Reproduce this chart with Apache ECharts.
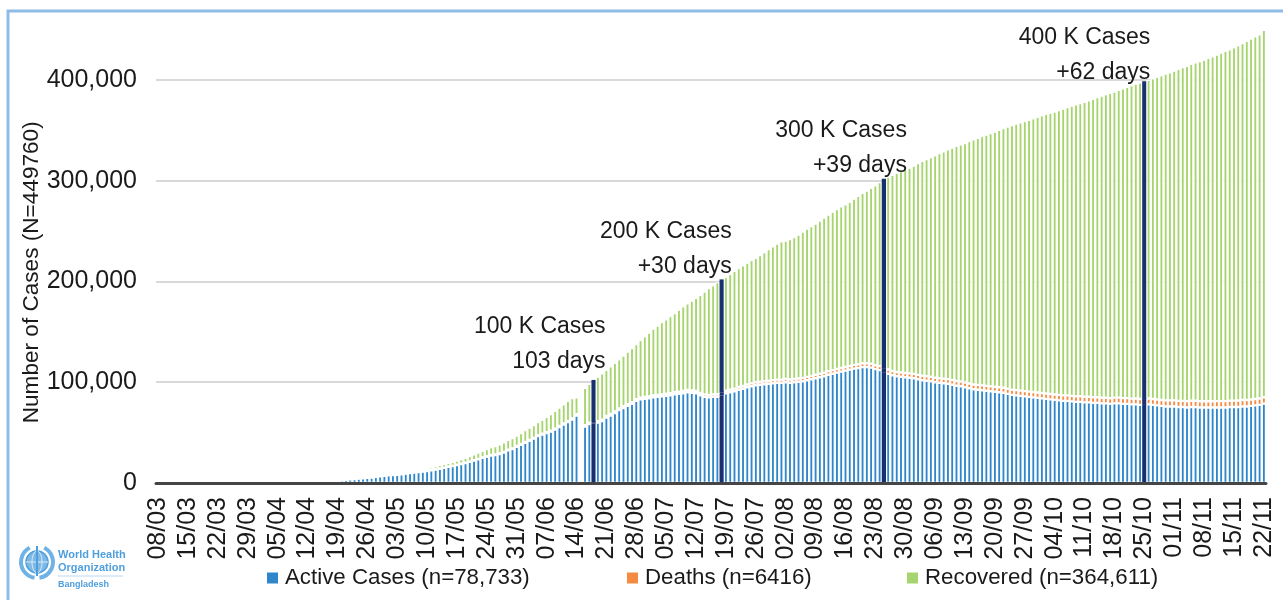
<!DOCTYPE html>
<html>
<head>
<meta charset="utf-8">
<title>Number of Cases</title>
<script src="https://cdn.jsdelivr.net/npm/echarts@6/dist/echarts.min.js"></script>
<style>
	html, body { margin: 0; padding: 0; background: #fff; }
	#main { width: 1283px; height: 600px; }
</style>
</head>
<body>
<div id="main"></div>
<script>
// one row per week, first value of each row is the date on the axis
const tickStarts = ['08/03','15/03','22/03','29/03','05/04','12/04','19/04','26/04','03/05','10/05','17/05','24/05','31/05','07/06','14/06','21/06','28/06','05/07','12/07','19/07','26/07','02/08','09/08','16/08','23/08','30/08','06/09','13/09','20/09','27/09','04/10','11/10','18/10','25/10','01/11','08/11','15/11','22/11'];

const activeCases = [
	3,3,3,3,3,3,3,
	2,5,7,11,14,17,21,
	24,27,33,33,33,34,34,
	24,24,25,25,24,24,30,
	46,78,114,165,268,360,412,
	545,720,921,1131,1462,1711,1998,
	2290,2770,3190,3560,3950,4370,4680,
	5060,5520,6060,6660,7160,7670,7920,
	8100,8700,9300,9900,10400,10900,11300,
	11900,12600,13300,14200,15000,16100,16700,
	17800,18900,19700,21000,22200,23500,25000,
	26000,27300,27800,28800,30300,32500,33700,
	36000,38000,40000,42000,44000,46500,48000,
	49500,51000,53000,55500,58000,60500,63000,
	67000,null,56000,58500,59000,60000,61500,
	65000,67000,69500,72500,74500,76500,78500,
	81500,83000,83500,84000,85000,85500,86000,
	86500,87000,88000,88500,89000,90000,89500,
	89000,87000,85500,85000,85500,85500,87000,
	89000,90000,91000,92500,93500,95000,96000,
	97000,97500,98000,98500,99000,99500,99500,
	100000,99500,100000,100500,101000,102000,103000,
	104000,105000,106000,107500,108500,109500,110500,
	111500,112500,113500,114000,115000,115000,114500,
	113000,112000,110000,108500,107000,106000,105500,
	105000,104500,104000,103000,102000,101500,101000,
	100000,99500,99000,98500,97500,96500,96000,
	95000,94000,93000,92500,92000,91500,91000,
	90500,90000,89500,88500,87500,87000,86500,
	86000,85500,85000,84500,84000,83500,83000,
	82500,82000,81500,81500,81000,80500,80500,
	80000,80000,79500,79500,79000,79000,78500,
	79000,79000,78500,78500,78000,78000,77500,
	77500,78000,77500,77000,76500,76000,76000,
	76000,75500,75500,75000,75500,75500,75000,
	75000,75000,75000,75000,75000,75000,75500,
	75500,75500,76000,76000,76500,77000,77500,
	78733
];

const deaths = [
	0,0,0,0,0,0,0,
	0,0,0,0,0,0,0,
	0,0,0,0,0,0,0,
	5,5,6,6,6,6,8,
	9,12,17,20,21,27,30,
	34,39,46,50,60,75,84,
	91,101,110,120,127,131,140,
	145,152,155,163,168,175,177,
	182,186,199,206,214,228,239,
	250,250,269,283,298,314,328,
	349,370,386,408,432,452,480,
	480,501,522,544,559,582,610,
	650,672,709,746,781,811,846,
	888,930,975,1012,1049,1095,1139,
	1171,null,1262,1305,1343,1388,1425,
	1464,1502,1545,1582,1621,1661,1695,
	1738,1783,1847,1888,1926,1968,1997,
	2052,2096,2151,2197,2238,2275,2305,
	2347,2391,2424,2457,2496,2547,2581,
	2618,2668,2709,2751,2801,2835,2874,
	2928,2965,3000,3035,3083,3111,3132,
	3154,3184,3234,3267,3306,3333,3365,
	3399,3438,3471,3513,3557,3591,3625,
	3657,3694,3740,3781,3822,3861,3907,
	3941,3974,4028,4082,4127,4174,4206,
	4248,4281,4316,4351,4383,4412,4447,
	4479,4516,4552,4593,4634,4669,4702,
	4733,4773,4806,4859,4881,4913,4939,
	4969,5007,5044,5072,5093,5129,5161,
	5193,5219,5251,5272,5305,5338,5371,
	5398,5431,5440,5470,5500,5524,5555,
	5577,5593,5608,5623,5646,5660,5681,
	5702,5723,5747,5772,5785,5803,5818,
	5838,5861,5886,5905,5923,5966,5983,
	6006,6025,6053,6074,6092,6119,6140,
	6150,6172,6194,6215,6240,6254,6275,
	6305,6322,6350,6371,6381,6400,6410,
	6416
];

const recovered = [
	0,0,0,0,0,0,0,
	3,3,3,3,3,3,3,
	3,3,6,6,11,14,14,
	19,20,20,23,26,31,32,
	33,33,33,33,41,37,40,
	42,44,45,50,50,52,62,
	75,77,82,92,109,188,178,
	211,241,247,280,339,393,693,
	1173,1257,1430,1613,1811,2006,2231,
	2507,2841,3091,3339,3565,3651,3967,
	4119,4600,5035,5330,5879,6253,6598,
	7130,7784,8429,8948,9462,9762,10298,
	10503,10862,11736,12394,12782,13080,14180,
	15381,16574,17700,18353,19003,19928,20240,
	16829,null,37219,38684,41949,44147,45850,
	45842,47284,48153,48578,50485,52313,53783,
	54549,57018,60136,63370,66351,68923,71682,
	73865,76522,78494,81437,84256,86168,89324,
	92448,97503,102133,106133,108327,111310,112485,
	112907,114785,116801,118003,119809,120823,122304,
	123525,125760,128185,130659,132806,135050,137228,
	137592,139418,140786,142907,145345,147169,148748,
	150201,152069,154032,155485,157058,158790,160400,
	161392,162950,165104,167310,169137,171499,174593,
	178559,182826,187972,191418,194873,197826,199794,
	202252,204219,206684,210177,213303,215703,218118,
	220678,223343,225699,227985,230836,233593,235342,
	237787,240559,243250,245312,247383,249392,251433,
	253447,255614,257634,260272,262791,264638,266212,
	267955,269836,271792,273707,275682,277545,279194,
	280792,282701,284691,286181,288092,289846,291018,
	292689,294145,296167,297836,299913,301301,303114,
	303867,305483,307491,308859,311042,312610,314189,
	315477,316390,318200,320174,322337,324398,325701,
	327246,329463,331306,333090,334414,335856,337624,
	339088,340749,342426,344138,345958,347711,348721,
	350528,352650,354334,356424,358278,360034,361371,
	364611
];

const yTicks = [0, 100000, 200000, 300000, 400000];

// the bars drawn dark, with the text above them
const milestoneDays = [102, 132, 170, 231];
const milestoneTotals = [102292, 202066, 302000, 398815];
const milestoneTexts = ['100 K Cases\n103 days', '200 K Cases\n+30 days', '300 K Cases\n+39 days', '400 K Cases\n+62 days'];

const seriesNames = ['Active Cases (n=78,733)', 'Deaths (n=6416)', 'Recovered (n=364,611)'];
const textFont = '"Liberation Sans", Arial, sans-serif';
const navy = '#17306f';

// the axis has one slot per day, only the weekly ones carry a label
const categories = [];
tickStarts.forEach(function (t, i) {
	categories.push(t);
	if (i < tickStarts.length - 1) {
		for (let d = 1; d < 7; d++) categories.push(t + '+' + d);
	}
});

function barData(values) {
	return values.map(function (v, i) {
		if (milestoneDays.indexOf(i) >= 0) {
			return { value: v, itemStyle: { color: navy, borderWidth: 0 } };
		}
		return v;
	});
}

function barSeries(name, values, color) {
	return {
		name: name,
		type: 'bar',
		stack: 'cases',
		barWidth: '100%',
		animation: false,
		itemStyle: { color: color, borderColor: '#fff', borderWidth: 1.2 },
		emphasis: { disabled: true },
		data: barData(values)
	};
}

function legendAt(name, left) {
	return {
		data: [name],
		left: left,
		top: 562,
		itemWidth: 13,
		itemHeight: 13,
		itemGap: 0,
		icon: 'rect',
		selectedMode: false,
		textStyle: { fontFamily: textFont, fontSize: 22.3, color: '#1a1a1a', padding: [0, 0, 0, 1] }
	};
}

const labelOffsets = [[12, -1], [10, 5], [23, 4], [6, 9]];

const recoveredSeries = barSeries(seriesNames[2], recovered, '#a6d46e');
recoveredSeries.markPoint = {
	symbol: 'circle',
	symbolSize: 0,
	animation: false,
	data: milestoneDays.map(function (d, i) {
		return {
			coord: [categories[d], milestoneTotals[i]],
			label: {
				show: true,
				formatter: milestoneTexts[i],
				position: labelOffsets[i],
				align: 'right',
				verticalAlign: 'bottom',
				fontFamily: textFont,
				fontSize: 23,
				lineHeight: 35,
				color: '#1a1a1a'
			}
		};
	})
};

const myChart = echarts.init(document.getElementById('main'), null, { renderer: 'canvas' });
myChart.setOption({
	backgroundColor: '#fff',
	animation: false,
	grid: { left: 156, right: 17, top: 29.6, height: 453.4, containLabel: false },
	legend: [
		legendAt(seriesNames[0], 260),
		legendAt(seriesNames[1], 620),
		legendAt(seriesNames[2], 900)
	],
	xAxis: {
		type: 'category',
		z: 5,
		data: categories,
		axisTick: { show: false },
		axisLine: { lineStyle: { color: '#454545', width: 3 } },
		axisLabel: {
			interval: 6,
			rotate: 90,
			margin: 14,
			fontFamily: textFont,
			fontSize: 25,
			color: '#1a1a1a'
		}
	},
	yAxis: {
		type: 'value',
		min: 0,
		max: 450000,
		interval: 100000,
		name: 'Number of Cases (N=449760)',
		nameLocation: 'middle',
		nameGap: 113,
		nameMoveOverlap: false,
		nameRotate: 90,
		nameTextStyle: { fontFamily: textFont, fontSize: 22.6, color: '#1a1a1a', padding: [0, 32, 0, 0] },
		axisLine: { show: false },
		axisTick: { show: false },
		splitLine: { showMaxLine: false, lineStyle: { color: '#d9d9d9', width: 2 } },
		axisLabel: {
			margin: 19,
			showMaxLabel: false,
			fontFamily: textFont,
			fontSize: 25,
			color: '#1a1a1a',
			formatter: function (v) {
				return yTicks.indexOf(v) >= 0 ? v.toLocaleString('en-US') : '';
			}
		}
	},
	series: [
		barSeries(seriesNames[0], activeCases, '#2f86ca'),
		barSeries(seriesNames[1], deaths, '#f58a42'),
		recoveredSeries
	],
	graphic: [
		// frame of the slide, only left and top show
		{ type: 'polyline', shape: { points: [[8, 600], [8, 11], [1283, 11]] }, style: { stroke: '#8dbce6', lineWidth: 3, fill: null } },
		// WHO logo, globe with the two branches round it
		{ type: 'circle', shape: { cx: 37, cy: 562, r: 11 }, style: { fill: '#7fb9e6', stroke: '#4f9fde', lineWidth: 1.5 } },
		{ type: 'ellipse', shape: { cx: 37, cy: 562, rx: 5, ry: 11 }, style: { fill: null, stroke: '#d9ebf8', lineWidth: 1 } },
		{ type: 'line', shape: { x1: 26, y1: 562, x2: 48, y2: 562 }, style: { stroke: '#d9ebf8', lineWidth: 1 } },
		{ type: 'line', shape: { x1: 37, y1: 546, x2: 37, y2: 576 }, style: { stroke: '#4f9fde', lineWidth: 2 } },
		{ type: 'arc', shape: { cx: 37, cy: 562, r: 16, startAngle: Math.PI * 0.55, endAngle: Math.PI * 1.35, clockwise: true }, style: { fill: null, stroke: '#6fb3e6', lineWidth: 4 } },
		{ type: 'arc', shape: { cx: 37, cy: 562, r: 16, startAngle: -Math.PI * 0.35, endAngle: Math.PI * 0.45, clockwise: true }, style: { fill: null, stroke: '#6fb3e6', lineWidth: 4 } },
		{ type: 'text', x: 58, y: 549, style: { text: 'World Health', font: 'bold 11px ' + textFont, fill: '#4f9fde' } },
		{ type: 'text', x: 58, y: 562, style: { text: 'Organization', font: 'bold 11px ' + textFont, fill: '#4f9fde' } },
		{ type: 'line', shape: { x1: 58, y1: 576, x2: 123, y2: 576 }, style: { stroke: '#b8d8f2', lineWidth: 1 } },
		{ type: 'text', x: 58, y: 580, style: { text: 'Bangladesh', font: 'bold 9px ' + textFont, fill: '#4f9fde' } }
	]
});
</script>
</body>
</html>
